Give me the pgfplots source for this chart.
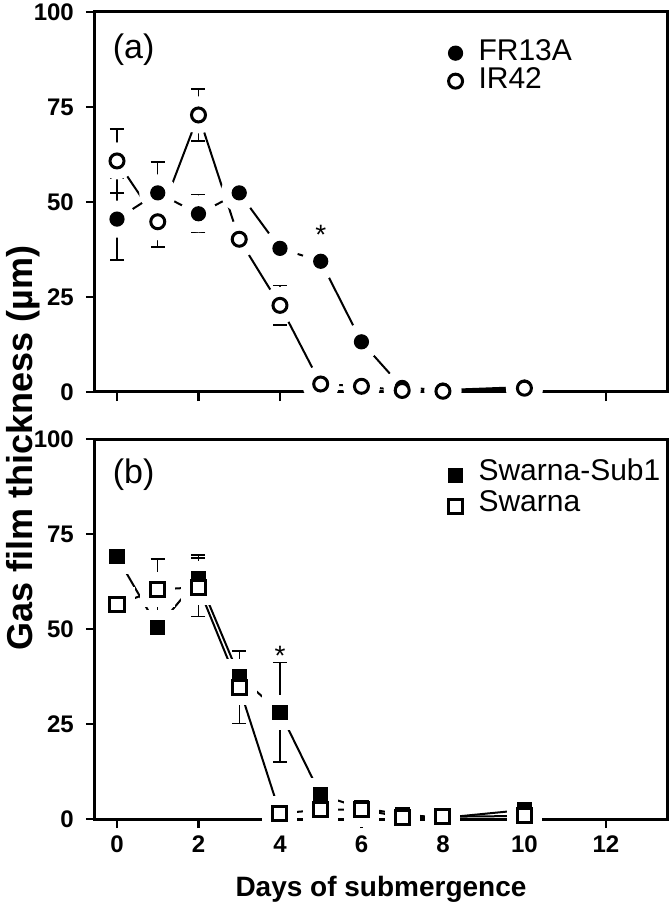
\documentclass[border=0pt]{standalone}
\usepackage{fontspec}
\setmainfont{Liberation Sans}
\usepackage{pgfplots}
\usepackage{pgfplotstable}
\pgfplotsset{compat=1.18}

% panel (a)
\pgfplotstableread{
x  y    e
0  45.5 10.8
1  52.4 8.1
2  46.9 5.0
3  52.4 2.0
4  37.8 0
5  34.4 2.8
6  13.2 3.7
7  1.2  0
8  0.5  0
10 1.3  0
}\frA
\pgfplotstableread{
x  y    e
0  60.8 8.4
1  44.8 6.6
2  72.9 6.8
3  40.2 4.3
4  22.8 5.2
5  2.1  0
6  1.5  0
7  0.4  0
8  0.2  0
10 1.0  0
}\irB
% panel (b)
\pgfplotstableread{
x  y    e
0  69.0 0
1  50.5 2.0
2  63.2 6.3
3  37.6 4.0
4  28.1 13.1
5  6.3  0
6  2.9  0
7  1.2  0
8  0.3  0
10 2.4  0
}\subA
\pgfplotstableread{
x  y    e
0  56.4 3.2
1  60.4 8.0
2  61.0 7.7
3  34.7 9.5
4  1.5  0
5  2.4  0
6  2.5  0
7  0.5  0
8  0.6  0
10 0.8  0
}\swB

\pgfplotsset{
  panel/.style={
    width=286pt, height=190pt, scale only axis,
    xmin=-0.54, xmax=13.5, ymin=0, ymax=100,
    xtick={0,2,...,12}, ytick={0,25,...,100},
    tick pos=left, tick align=outside,
    major tick length=4.5pt,
    every tick/.style={black, line width=1.2pt},
    line width=1.5pt,
    axis on top,
    /pgf/number format/assume math mode=true,
    xticklabel style={font=\bfseries\fontsize{12}{14}\selectfont},
    yticklabel style={font=\bfseries\fontsize{12}{14}\selectfont, xshift=-2pt},
    legend cell align=left,
    legend style={draw=none, fill=none, anchor=north west,
      font=\fontsize{15}{15}\selectfont, row sep=0pt, column sep=7pt,
      nodes={inner ysep=0pt, inner xsep=1pt, text height=10.5pt, text depth=3.5pt}},
  },
  conn/.style={black, line width=1pt, forget plot},
  halo/.style={only marks, mark=*, mark size=8.5pt, white, forget plot},
  pts/.style={only marks, black, mark size=3.5pt, mark options={line width=0.6pt},
    error bars/y dir=both, error bars/y explicit,
    error bars/error bar style={line width=0.7pt},
    error bars/error mark options={rotate=90, mark size=3.5pt, line width=0.7pt}},
}

\begin{document}
\begin{tikzpicture}
\begin{axis}[panel, at={(0,0)}, anchor=north west, xticklabels={},
  legend style={at={(0.605,0.943)}}]
  \addplot[conn] table[x=x, y=y] {\frA};
  \addplot[conn] table[x=x, y=y] {\irB};
  \addplot[halo] table[x=x, y=y] {\frA};
  \addplot[halo] table[x=x, y=y] {\irB};
  \addplot[pts, mark=*] table[x=x, y=y, y error=e] {\frA};
  \addplot[pts, mark=*, mark options={fill=white}] table[x=x, y=y, y error=e] {\irB};
  \legend{FR13A, IR42}
  \node[anchor=west, font=\fontsize{17}{17}\selectfont] at (rel axis cs:0.017,0.9) {(a)};
  \node[anchor=base, font=\fontsize{14}{14}\selectfont] at (axis cs:5,38.7) {*};
\end{axis}

\begin{axis}[panel, at={(0,-213.5pt)}, anchor=north west,
  xlabel={Days of submergence},
  xlabel style={font=\bfseries\fontsize{14}{14}\selectfont, yshift=-4pt},
  legend style={at={(0.605,0.96)}, nodes={text depth=5pt}}]
  \addplot[conn] table[x=x, y=y] {\subA};
  \addplot[conn] table[x=x, y=y] {\swB};
  \addplot[halo, mark=square*, mark size=8pt] table[x=x, y=y] {\subA};
  \addplot[halo, mark=square*, mark size=8pt] table[x=x, y=y] {\swB};
  \addplot[pts, mark=square*] table[x=x, y=y, y error=e] {\subA};
  \addplot[pts, mark=square*, mark options={fill=white}] table[x=x, y=y, y error=e] {\swB};
  \legend{Swarna-Sub1, Swarna}
  \node[anchor=west, font=\fontsize{17}{17}\selectfont] at (rel axis cs:0.017,0.905) {(b)};
  \node[anchor=base, font=\fontsize{14}{14}\selectfont] at (axis cs:4,40.5) {*};
\end{axis}

\node[rotate=90, font=\bfseries\fontsize{18}{18}\selectfont] at (-36pt,-218pt)
  {Gas film thickness (µm)};

\pgfresetboundingbox
\path[use as bounding box] (-47.5pt,6pt) rectangle (287.5pt,-448pt);
\end{tikzpicture}
\end{document}
